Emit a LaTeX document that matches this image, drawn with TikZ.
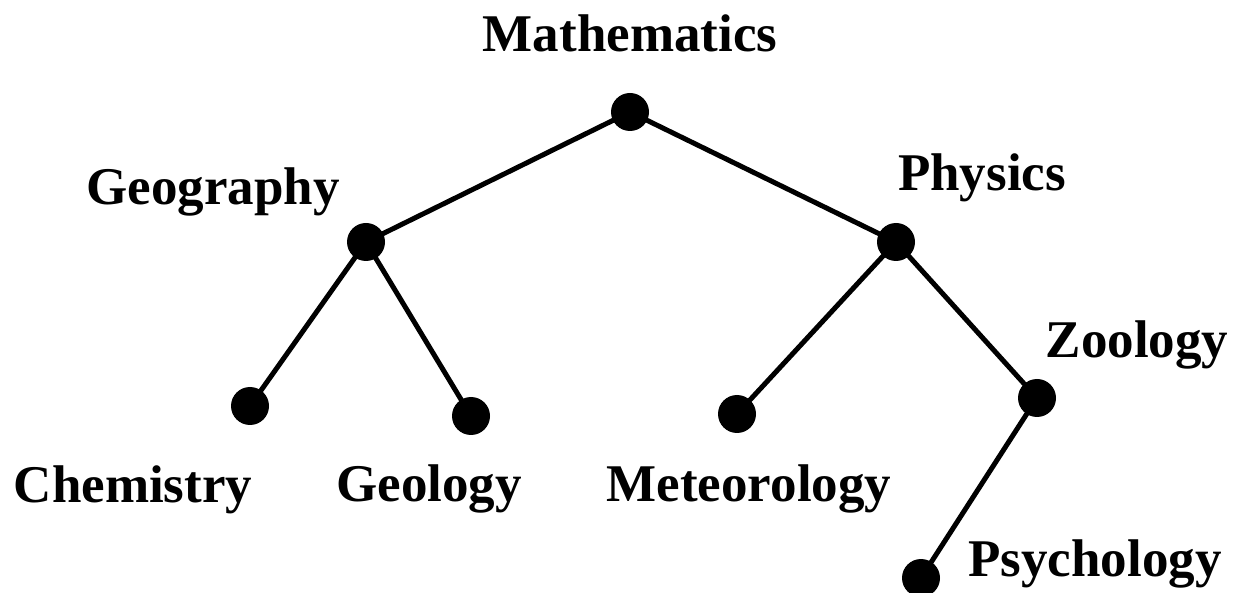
\documentclass[tikz,border=0pt]{standalone}
\usepackage{fontspec}
\setmainfont{Liberation Serif}
\begin{document}
\begin{tikzpicture}[x=1pt,y=-1pt,
  dot/.style={circle,fill=black,inner sep=0pt,minimum size=38pt},
  lbl/.style={font=\fontsize{53}{60}\selectfont\bfseries,anchor=base,inner sep=0pt},
  edge/.style={line width=5pt}]
\useasboundingbox (0,0) rectangle (1235,593);
\node[dot] (math) at (630,112) {};
\node[dot] (geog) at (366,242) {};
\node[dot] (phys) at (896,242) {};
\node[dot] (chem) at (250,406) {};
\node[dot] (geol) at (471,416) {};
\node[dot] (mete) at (737,414) {};
\node[dot] (zool) at (1037,398) {};
\node[dot] (psyc) at (921,578) {};
\draw[edge] (math.center) -- (geog.center);
\draw[edge] (math.center) -- (phys.center);
\draw[edge] (geog.center) -- (chem.center);
\draw[edge] (geog.center) -- (geol.center);
\draw[edge] (phys.center) -- (mete.center);
\draw[edge] (phys.center) -- (zool.center);
\draw[edge] (zool.center) -- (psyc.center);
\node[lbl] (tmath) at (630,52) {Mathematics};
\node[lbl] (tgeog) at (213,205) {Geography};
\node[lbl] (tphys) at (982,191) {Physics};
\node[lbl] (tzool) at (1137,358) {Zoology};
\node[lbl] (tchem) at (133,503) {Chemistry};
\node[lbl] (tgeol) at (429,501) {Geology};
\node[lbl] (tmete) at (749,501) {Meteorology};
\node[lbl] (tpsyc) at (1095,576) {Psychology};
\end{tikzpicture}
\end{document}
